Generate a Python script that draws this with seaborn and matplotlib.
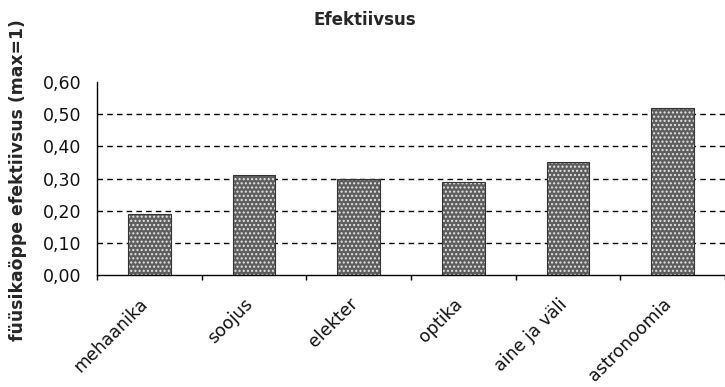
import matplotlib
matplotlib.use("Agg")
import matplotlib.pyplot as plt
from matplotlib.colors import to_rgba
from matplotlib.transforms import ScaledTranslation
import seaborn as sns
import pandas as pd
import numpy as np

categories = ["mehaanika", "soojus", "elekter", "optika", "aine ja väli", "astronoomia"]
values = [0.19, 0.31, 0.30, 0.29, 0.35, 0.52]
y_ticks = [0.0, 0.1, 0.2, 0.3, 0.4, 0.5, 0.6]
y_tick_labels = ["0,00", "0,10", "0,20", "0,30", "0,40", "0,50", "0,60"]
title = "Efektiivsus"
y_label = "füüsikaöppe efektiivsus (max=1)"

sns.set_theme(style="white")
plt.rcParams["font.family"] = ["DejaVu Sans"]

df = pd.DataFrame({"teema": categories, "efektiivsus": values})

fig = plt.figure(figsize=(7.25, 3.87), dpi=100)
ax = fig.add_axes([97 / 725, (387 - 275) / 387, (725 - 97) / 725, (275 - 82) / 387])

sns.barplot(data=df, x="teema", y="efektiivsus", ax=ax, color="#5e5e5e",
            width=0.41, saturation=1, edgecolor="#333333", linewidth=0.8)

# stippled fill: light dots on a dark grey face
for p in ax.patches:
    p.set_hatch("....")
    p._hatch_color = to_rgba("#e6e6e6")

ax.set_ylim(0, 0.6)
ax.set_xlim(-0.5, len(categories) - 0.5)
ax.set_yticks(y_ticks)
ax.set_yticklabels(y_tick_labels, fontsize=12.5, color="#111111")
ax.tick_params(axis="y", direction="inout", length=6, width=1, color="black", pad=8.5)

# category boundaries carry the ticks, centres carry the names
n = len(categories)
ax.set_xticks(np.arange(-0.5, n, 1.0))
ax.set_xticklabels([])
ax.set_xticks(np.arange(n), minor=True)
ax.set_xticklabels(categories, minor=True, rotation=45, ha="right", va="center",
                   rotation_mode="anchor", fontsize=12.5, color="#111111")
ax.tick_params(axis="x", which="major", direction="out", length=3.6, width=1,
               color="black", bottom=True)
ax.tick_params(axis="x", which="minor", length=0, pad=19)
shift = ScaledTranslation(-4 / 100, 0, fig.dpi_scale_trans)
for lbl in ax.get_xticklabels(minor=True):
    lbl.set_transform(lbl.get_transform() + shift)

for yv in y_ticks[1:-1]:
    ax.axhline(yv, color="black", lw=1, linestyle=(0, (4, 3)), zorder=0)

for side in ["top", "right"]:
    ax.spines[side].set_visible(False)
for side in ["left", "bottom"]:
    ax.spines[side].set_color("black")
    ax.spines[side].set_linewidth(1)

ax.set_xlabel("")
ax.set_ylabel("")
ax.grid(False)

fig.text(365 / 725, 1 - 20 / 387, title, ha="center", va="center",
         fontsize=12, fontweight="bold")
fig.text(18 / 725, 1 - 180 / 387, y_label, ha="center", va="center",
         rotation=90, fontsize=12.4, fontweight="bold")

fig.savefig("out.png", dpi=100)
